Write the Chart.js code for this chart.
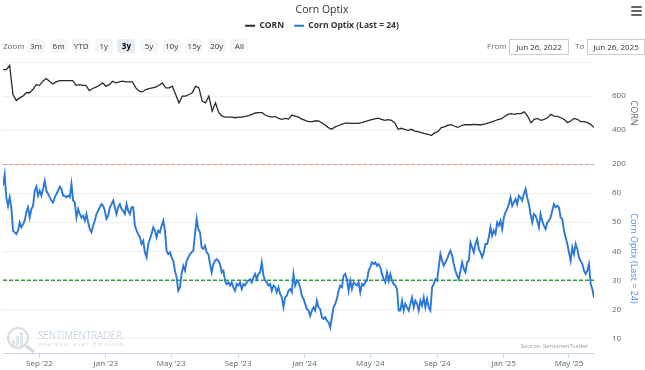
<!DOCTYPE html>
<html><head><meta charset="utf-8">
<script src="https://cdn.jsdelivr.net/npm/chart.js@4.4.1/dist/chart.umd.min.js"></script>
<style>
html,body{margin:0;padding:0;background:#fff;}
#wrap{position:relative;width:645px;height:370px;font-family:'Open Sans',sans-serif;overflow:hidden;}
canvas{position:absolute;left:0;top:0;}
.rs{position:absolute;font-size:8px;color:#333;height:14px;line-height:14px;text-align:center;white-space:nowrap;}
.btn{background:#f7f7f7;border-radius:2px;width:18px;top:39px;}
.sel{background:#e6ebf5;font-weight:bold;color:#000;}
.lbl{color:#666;top:39px;}
.date{top:39px;border:1px solid #ccc;height:14px;line-height:14px;font-size:8px;color:#333;}
.bar{position:absolute;left:631px;width:11px;height:2px;background:#666;border-radius:1px;}
</style></head><body>
<div id="wrap">
<canvas id="c" width="645" height="370"></canvas>
</div>
<script>
// ---------------- data ----------------
const chartTitle = 'Corn Optix';
const cornLabel = 'CORN';
const optixLabel = 'Corn Optix (Last = 24)';
const startDate = '2022-06-26';
const endDate = '2025-06-16';
const fromText = 'Jun 26, 2022';
const toText = 'Jun 26, 2025';
const rangeButtons = ['3m','6m','YTD','1y','3y','5y','10y','15y','20y','All'];
const selectedRange = '3y';
const monthTickDates = ['2022-09-01','2023-01-01','2023-05-01','2023-09-01','2024-01-01','2024-05-01','2024-09-01','2025-01-01','2025-05-01'];
const monthTickLabels = ["Sep '22","Jan '23","May '23","Sep '23","Jan '24","May '24","Sep '24","Jan '25","May '25"];
const cornTicks = [200,400,600,800];
const optixTicks = [10,20,30,40,50,60,70];
const upperThreshold = 70;
const lowerThreshold = 30;

const cornValues = [
755,755,780,609,574,589,599,619,619,638,
667,663,687,703,687,671,683,691,691,691,
691,691,663,667,663,663,632,644,652,663,
677,658,667,687,677,683,687,683,683,683,
648,628,624,638,644,648,652,663,677,648,
648,658,609,560,599,599,609,619,658,648,
570,560,599,511,560,502,482,476,476,476,
472,476,476,480,484,492,500,502,502,488,
480,476,480,468,463,468,464,488,482,476,
464,457,449,449,
453,453,443,429,414,404,418,425,433,441,
441,439,439,439,443,449,455,461,466,470,
463,457,461,457,441,404,410,404,398,404,
394,390,384,379,375,367,383,390,414,418,
429,431,422,416,425,431,431,431,433,431,
431,435,441,447,453,461,466,478,492,496,
492,496,496,507,482,443,463,468,457,463,
472,492,482,480,472,463,443,453,468,463,
449,449,443,433,414
];

const optixValues = [
62.5,66.3,58.5,55.6,58.5,55.0,47.1,46.5,45.9,47.1,
49.9,48.2,49.3,50.5,53.4,55.1,51.6,54.5,55.6,60.8,
62.2,59.1,60.8,59.1,61.4,64.2,60.8,59.7,58.5,57.4,
56.8,58.5,59.7,60.8,62.2,61.4,59.1,59.1,58.5,59.1,
58.5,63.1,57.4,56.8,51.6,54.5,52.8,51.6,52.2,50.5,
52.8,49.9,47.6,46.5,48.8,50.5,52.8,53.9,55.1,56.2,
55.6,53.9,51.1,52.2,55.1,56.2,57.4,55.1,52.8,55.1,
56.2,54.5,53.9,52.8,56.2,53.9,52.8,55.1,55.1,48.8,
47.1,45.9,44.8,42.5,43.6,39.6,37.9,42.5,
44.2,45.9,48.2,47.1,44.8,47.1,46.5,48.8,50.5,47.1,
40.2,39.0,39.6,37.9,36.7,33.3,31.0,26.4,27.6,32.2,
35.0,33.3,36.7,37.9,39.0,39.6,40.2,45.9,51.1,47.6,
46.5,41.3,40.8,41.9,39.6,39.0,35.6,32.7,35.6,36.7,
37.3,36.7,35.6,32.7,33.3,29.9,28.7,29.3,28.2,29.3,
27.6,26.4,28.7,28.2,29.3,27.0,28.7,28.2,29.3,29.9,
30.4,29.3,31.0,32.2,30.4,32.2,32.7,36.2,31.6,29.9,
29.3,28.2,28.7,26.4,28.2,27.6,25.9,27.6,25.3,24.1,
20.7,24.1,24.7,26.4,27.0,25.9,32.2,28.2,29.9,29.3,
27.6,24.7,23.6,21.9,20.1,19.6,17.8,19.6,20.7,19.6,
23.0,20.7,20.1,17.3,16.7,17.3,16.1,15.6,13.8,17.3,
20.7,21.9,23.6,26.4,28.2,27.6,31.6,32.2,30.4,26.4,
29.9,27.0,29.3,28.7,28.2,29.3,25.9,28.7,28.2,29.3,
29.9,33.3,34.5,36.2,35.6,36.2,35.0,35.6,34.5,32.2,
30.4,29.3,32.7,29.9,32.2,29.9,28.7,28.2,27.0,19.6,
19.6,23.0,19.6,21.9,20.7,19.6,21.9,24.1,20.7,23.0,
21.9,19.6,23.0,21.3,24.1,20.7,23.6,20.7,19.6,27.6,
28.7,30.4,29.9,34.5,39.0,36.7,35.0,36.2,37.3,39.0,
40.2,38.5,35.6,33.3,31.6,30.4,33.3,36.2,33.9,32.7,
36.2,36.7,43.0,41.3,39.6,42.5,44.2,40.8,39.6,37.9,
39.6,42.5,42.5,44.8,48.2,45.3,47.1,45.9,49.9,48.8,
50.5,47.6,51.6,53.4,54.5,56.2,58.5,55.6,56.8,57.9,
56.2,59.1,58.5,57.4,59.7,61.4,58.5,56.2,52.8,49.9,
52.8,52.2,50.5,48.2,52.8,50.5,48.8,47.6,49.9,50.5,
51.6,53.9,56.2,55.1,55.6,55.1,51.6,51.1,47.1,44.8,
42.5,39.6,36.7,41.3,39.0,42.5,40.8,37.9,36.7,35.6,
33.3,32.2,33.3,35.6,28.7,27.0,24.1
];

// ---------------- helpers ----------------
const DAY = 86400000;
const dayOf = d => (Date.parse(d + 'T00:00:00Z') - Date.parse(startDate + 'T00:00:00Z')) / DAY;
const spanDays = dayOf(endDate);
const monthTickDays = monthTickDates.map(dayOf);
const toPoints = vals => vals.map((v, i) => ({x: i * spanDays / (vals.length - 1), y: v}));

// ---------------- HTML range selector ----------------
const wrap = document.getElementById('wrap');
function addDiv(cls, text, left, extra) {
  const d = document.createElement('div');
  d.className = 'rs ' + cls;
  d.textContent = text;
  d.style.left = left + 'px';
  if (extra) Object.assign(d.style, extra);
  wrap.appendChild(d);
  return d;
}
addDiv('lbl', 'Zoom', 3, {textAlign:'left'});
rangeButtons.forEach((b, i) => addDiv('btn' + (b === selectedRange ? ' sel' : ''), b, 27 + i * 22.6));
addDiv('lbl', 'From', 487, {textAlign:'left'});
addDiv('date', fromText, 509, {width:'58px'});
addDiv('lbl', 'To', 575, {textAlign:'left'});
addDiv('date', toText, 587, {width:'56px'});
[6, 10, 14].forEach(t => { const b = document.createElement('div'); b.className = 'bar'; b.style.top = t + 'px'; wrap.appendChild(b); });

// ---------------- Chart ----------------
Chart.defaults.font.family = "'Open Sans', sans-serif";
const PLOT_TOP = 62;
const AXIS_W = 47;
const XAXIS_H = 17;

const legendSpace = {
  id: 'legendSpace',
  beforeInit(chart) {
    const lg = chart.legend;
    const orig = lg.fit;
    lg.fit = function () { orig.call(this); this.height = PLOT_TOP - 11.6; };
  }
};

const fitY = ax => { ax.width = AXIS_W; ax.paddingTop = 0; ax.paddingBottom = 0; };

const decorations = {
  id: 'decorations',
  beforeDatasetsDraw(chart) {
    const ctx = chart.ctx;
    ctx.save();
    ctx.strokeStyle = '#d9dde2'; ctx.lineWidth = 2;
    ctx.beginPath(); ctx.arc(18, 338, 10, 0, Math.PI * 2); ctx.stroke();
    ctx.fillStyle = '#dfe5ec';
    ctx.fillRect(12, 340, 3, 6); ctx.fillRect(16, 336, 3, 10); ctx.fillRect(20, 332, 3, 14);
    ctx.strokeStyle = '#cfdbe8'; ctx.lineWidth = 3;
    ctx.beginPath(); ctx.moveTo(26, 346); ctx.lineTo(34, 352); ctx.stroke();
    ctx.textBaseline = 'middle'; ctx.textAlign = 'left';
    ctx.fillStyle = '#cad7e6'; ctx.font = "10px 'Open Sans'";
    ctx.fillText('SENTIMENTRADER', 38, 336.5, 84);
    ctx.fillStyle = '#d8d8d8'; ctx.font = "6px 'Open Sans'";
    ctx.letterSpacing = '1.2px';
    ctx.fillText('Analysis over Emotion', 38, 344.5);
    ctx.restore();
    ctx.save();
    ctx.fillStyle = '#999'; ctx.font = "6px 'Open Sans'"; ctx.textAlign = 'right'; ctx.textBaseline = 'middle';
    ctx.fillText('Source: SentimenTrader', 588, 346.5);
    ctx.restore();
  }
};

new Chart(document.getElementById('c'), {
  type: 'line',
  data: {
    datasets: [
      {label: cornLabel, data: toPoints(cornValues), yAxisID: 'yCorn', borderColor: '#2b2b2b', backgroundColor: '#2b2b2b', borderWidth: 1.3, pointRadius: 0, tension: 0},
      {label: optixLabel, data: toPoints(optixValues), yAxisID: 'yOptix', borderColor: '#2b78d8', backgroundColor: '#2b78d8', borderWidth: 1.9, pointRadius: 0, tension: 0},
      {label: 'Upper', data: [{x: 0, y: upperThreshold}, {x: spanDays, y: upperThreshold}], yAxisID: 'yOptix', borderColor: '#ee7272', borderDash: [4, 2], borderWidth: 1.5, pointRadius: 0},
      {label: 'Lower', data: [{x: 0, y: lowerThreshold}, {x: spanDays, y: lowerThreshold}], yAxisID: 'yOptix', borderColor: '#3a9a3a', borderDash: [4, 2], borderWidth: 1.6, pointRadius: 0}
    ]
  },
  options: {
    responsive: false, animation: false, devicePixelRatio: 1, events: [],
    layout: {padding: {left: 3, right: 4, top: 0, bottom: 0}},
    scales: {
      x: {
        type: 'linear', min: 0, max: spanDays,
        afterBuildTicks: ax => { ax.ticks = monthTickDays.map(v => ({value: v})); },
        afterFit: ax => { ax.height = XAXIS_H; },
        ticks: {autoSkip: false, maxRotation: 0, padding: 1, color: '#666', font: {size: 8}, callback: (v, i) => monthTickLabels[i]},
        grid: {display: true, drawOnChartArea: false, drawTicks: true, tickLength: 5, color: '#ccd6eb'},
        border: {display: true, color: '#ccd6eb'}
      },
      yCorn: {
        type: 'linear', position: 'right', stack: 'panes', stackWeight: 102, min: 200, max: 800,
        afterBuildTicks: ax => { ax.ticks = cornTicks.map(v => ({value: v})); },
        afterFit: fitY,
        grid: {color: '#efefef', drawTicks: false}, border: {display: false},
        ticks: {padding: 18, color: '#666', font: {size: 8}, callback: v => (v === 800 ? '' : String(v))},
        title: {display: true, text: cornLabel, color: '#666', font: {size: 9}, padding: {top: 2, bottom: 0}}
      },
      yOptix: {
        type: 'linear', position: 'right', stack: 'panes', stackWeight: 189, min: 5, max: 70,
        afterBuildTicks: ax => { ax.ticks = optixTicks.map(v => ({value: v})); },
        afterFit: fitY,
        grid: {color: '#efefef', drawTicks: false}, border: {display: false},
        ticks: {padding: 18, color: '#666', font: {size: 8}, callback: v => (v === 70 ? '' : String(v))},
        title: {display: true, text: optixLabel, color: '#4a8fe0', font: {size: 9}, padding: {top: 2, bottom: 0}}
      }
    },
    plugins: {
      tooltip: {enabled: false},
      title: {display: true, text: chartTitle, color: '#333', font: {size: 10.5, weight: 'normal'}, padding: {top: 3.5, bottom: -4.5}},
      legend: {
        display: true, position: 'top', align: 'center',
        labels: {
          usePointStyle: true, pointStyle: 'line', pointStyleWidth: 10, padding: 10, color: '#333',
          font: {size: 8.5, weight: 'bold'},
          filter: item => item.datasetIndex < 2,
          generateLabels(chart) {
            const items = Chart.defaults.plugins.legend.labels.generateLabels(chart);
            items.forEach(it => { it.lineWidth = 2; });
            return items;
          }
        }
      }
    }
  },
  plugins: [legendSpace, decorations]
});
</script>
</body></html>
